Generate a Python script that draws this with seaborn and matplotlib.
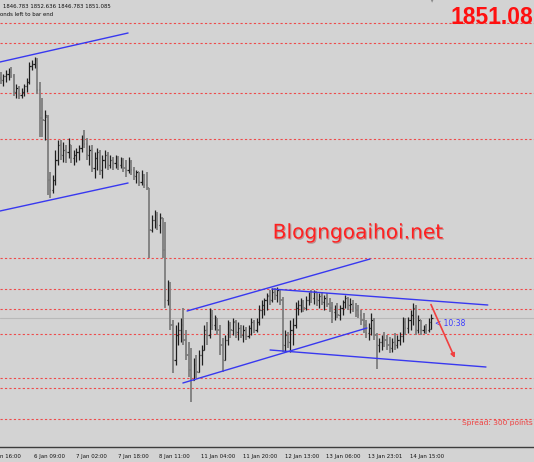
import matplotlib
matplotlib.use("Agg")
import matplotlib.pyplot as plt
import matplotlib.transforms as mtransforms
import matplotlib.patheffects as pe
import seaborn as sns
import numpy as np

# ---------------- data (XAUUSD H1) ----------------
opens = [1947.1,1946.3,1947.9,1948.7,1949.5,1947.9,1941.5,1943.1,1940.3,1941.5,
         1943.9,1945.5,1951.9,1952.7,1954.3,1942.3,1931.1,1930.3,1931.5,1906.3,
         1902.3,1906.3,1914.3,1920.3,1916.3,1918.3,1917.5,1920.3,1915.1,1916.3,
         1917.5,1919.1,1922.3,1920.7,1916.3,1918.3,1911.1,1915.1,1917.5,1910.3,
         1914.3,1916.3,1912.3,1914.3,1913.1,1915.1,1912.3,1914.3,1911.1,1910.3,
         1913.5,1910.3,1907.9,1909.5,1905.5,1908.3,1904.3,1903.1,1886.3,1890.3,
         1892.3,1888.3,1891.1,1878.3,1858.3,1862.3,1848.3,1834.3,1844.3,1846.3,
         1848.3,1842.3,1836.3,1830.3,1826.3,1832.3,1829.5,1836.3,1838.3,1846.3,
         1844.3,1852.3,1848.3,1851.1,1846.3,1840.3,1834.3,1842.3,1848.3,1846.3,
         1849.5,1845.5,1847.1,1844.3,1846.3,1843.9,1847.1,1849.5,1846.3,1849.5,
         1854.3,1856.3,1858.3,1859.9,1858.3,1861.5,1860.3,1862.3,1858.3,1840.3,
         1844.3,1841.5,1846.3,1848.3,1855.1,1856.3,1857.5,1855.1,1858.3,1860.3,
         1859.1,1861.5,1858.3,1859.9,1857.5,1859.1,1856.7,1855.1,1853.5,1854.3,
         1852.3,1855.1,1857.5,1859.1,1856.3,1856.7,1855.1,1854.3,1852.3,1850.3,
         1848.3,1845.1,1847.1,1850.3,1844.3,1840.3,1841.5,1843.1,1842.3,1840.3,
         1839.1,1841.5,1840.3,1842.3,1843.9,1849.5,1847.1,1850.3,1852.3,1855.1,
         1846.3,1850.3,1846.3,1847.5,1846.3,1846.783]
highs = [1949.5,1948.7,1950.3,1951.1,1951.5,1948.7,1944.7,1943.9,1943.1,1944.7,
         1947.1,1953.5,1954.3,1955.5,1955.1,1945.5,1939.1,1934.3,1932.3,1909.5,
         1908.3,1918.3,1922.3,1922.3,1921.5,1920.3,1923.1,1920.3,1918.3,1919.1,
         1920.3,1924.3,1926.3,1923.1,1920.3,1920.3,1917.5,1919.1,1918.3,1916.3,
         1918.3,1917.5,1916.3,1915.5,1916.3,1915.9,1915.5,1915.1,1914.3,1915.5,
         1914.3,1911.5,1910.3,1909.5,1910.3,1908.7,1909.5,1903.1,1892.3,1894.3,
         1893.5,1893.1,1891.1,1889.5,1866.3,1865.5,1850.3,1848.3,1849.5,1851.1,
         1855.1,1846.3,1841.5,1839.1,1835.1,1836.3,1838.3,1840.3,1848.3,1849.5,
         1855.1,1854.3,1852.3,1851.1,1848.3,1843.1,1844.3,1850.3,1849.5,1851.1,
         1850.3,1849.5,1848.3,1848.3,1847.5,1848.3,1851.1,1850.3,1851.1,1856.3,
         1858.3,1859.1,1861.1,1862.3,1863.1,1863.1,1863.5,1862.3,1859.5,1846.3,
         1845.5,1850.3,1851.1,1857.5,1858.3,1859.1,1858.3,1859.9,1861.5,1862.3,
         1862.3,1861.5,1861.1,1861.5,1860.3,1861.1,1859.1,1857.5,1856.3,1857.1,
         1856.3,1858.3,1860.3,1859.5,1859.1,1858.3,1857.1,1856.3,1854.3,1853.1,
         1850.3,1849.1,1853.1,1851.1,1845.1,1843.1,1844.3,1845.5,1844.3,1843.5,
         1843.1,1845.1,1844.3,1845.5,1851.5,1851.1,1851.5,1854.3,1857.1,1856.3,
         1852.3,1850.3,1848.3,1848.7,1851.1,1852.636]
lows = [1944.7,1943.9,1945.5,1946.3,1947.1,1939.9,1939.1,1938.7,1939.1,1939.9,
        1941.5,1944.7,1950.3,1951.1,1940.7,1923.5,1923.5,1922.3,1900.3,1899.1,
        1901.1,1904.3,1912.3,1914.3,1913.5,1913.1,1915.1,1913.1,1912.3,1913.5,
        1914.3,1917.5,1919.1,1914.3,1912.3,1909.5,1907.1,1910.3,1908.3,1907.1,
        1911.1,1910.3,1911.1,1910.3,1911.1,1910.3,1911.1,1909.5,1907.5,1909.1,
        1908.3,1906.3,1905.1,1903.9,1904.3,1903.1,1902.3,1875.1,1885.5,1887.1,
        1886.3,1885.1,1875.1,1855.1,1856.3,1846.3,1829.1,1832.3,1840.3,1841.5,
        1840.3,1834.3,1827.5,1817.5,1826.3,1827.1,1829.5,1832.3,1838.3,1840.3,
        1843.1,1846.3,1846.3,1844.3,1836.3,1829.5,1834.3,1840.3,1843.1,1844.3,
        1843.1,1842.3,1843.1,1841.5,1842.3,1843.1,1844.3,1845.1,1845.5,1848.3,
        1851.1,1852.3,1854.3,1856.3,1857.5,1858.3,1857.5,1856.3,1837.5,1837.5,
        1839.1,1837.5,1840.3,1847.1,1852.3,1853.5,1853.5,1854.3,1856.3,1857.1,
        1856.7,1855.9,1855.1,1856.3,1854.3,1855.5,1853.5,1849.1,1850.3,1851.1,
        1850.3,1852.3,1855.1,1854.3,1853.1,1853.5,1851.5,1851.1,1848.3,1845.1,
        1843.1,1842.3,1844.3,1842.3,1830.7,1837.5,1838.3,1839.5,1838.3,1837.1,
        1837.5,1838.3,1839.1,1840.3,1841.5,1844.3,1845.1,1846.3,1848.3,1844.3,
        1845.1,1844.3,1845.1,1844.7,1845.5,1846.783]
closes = [1946.3,1947.9,1948.7,1949.5,1947.9,1941.5,1943.1,1940.3,1941.5,1943.9,
          1945.5,1951.9,1952.7,1954.3,1942.3,1931.1,1930.3,1932.3,1906.3,1902.3,
          1906.3,1914.3,1920.3,1916.3,1918.3,1917.5,1920.3,1915.1,1916.3,1917.5,
          1919.1,1922.3,1920.7,1916.3,1918.3,1911.1,1915.1,1917.5,1910.3,1914.3,
          1916.3,1912.3,1914.3,1913.1,1915.1,1912.3,1914.3,1911.1,1910.3,1913.5,
          1910.3,1907.9,1909.5,1905.5,1908.3,1904.3,1903.1,1886.3,1890.3,1892.3,
          1888.3,1891.1,1878.3,1858.3,1862.3,1848.3,1834.3,1844.3,1846.3,1848.3,
          1842.3,1836.3,1830.3,1826.3,1832.3,1829.5,1836.3,1838.3,1846.3,1844.3,
          1852.3,1848.3,1851.1,1846.3,1840.3,1834.3,1842.3,1848.3,1846.3,1849.5,
          1845.5,1847.1,1844.3,1846.3,1843.9,1847.1,1849.5,1846.3,1849.5,1854.3,
          1856.3,1858.3,1859.9,1858.3,1861.5,1860.3,1862.3,1858.3,1840.3,1844.3,
          1841.5,1846.3,1848.3,1855.1,1856.3,1857.5,1855.1,1858.3,1860.3,1859.1,
          1861.5,1858.3,1859.9,1857.5,1859.1,1856.7,1855.1,1853.5,1854.3,1852.3,
          1855.1,1857.5,1859.1,1856.3,1856.7,1855.1,1854.3,1852.3,1850.3,1848.3,
          1845.1,1847.1,1850.3,1844.3,1840.3,1841.5,1843.1,1842.3,1840.3,1839.1,
          1841.5,1840.3,1842.3,1843.9,1849.5,1847.1,1850.3,1852.3,1855.1,1846.3,
          1850.3,1846.3,1847.5,1846.3,1849.5,1851.085]

tick_positions = [12, 28, 44, 60, 76, 92, 108, 124, 140, 156]
tick_labels = ["6 Jan 09:00", "7 Jan 02:00", "7 Jan 18:00", "8 Jan 11:00",
               "11 Jan 04:00", "11 Jan 20:00", "12 Jan 13:00", "13 Jan 06:00",
               "13 Jan 23:01", "14 Jan 15:00"]
edge_label = "n 16:00"   # visible part of the label cut by the left edge

levels = [1969.1, 1961.1, 1941.1, 1922.7, 1875.1, 1862.7, 1854.7, 1844.7, 1827.1, 1823.1, 1810.7]
bid_price = 1851.085

# trend lines: (start bar, start price, end bar, end price)
trend_lines = [
    (-0.26, 1953.5, 48.8, 1965.1),
    (-0.26, 1893.9, 48.8, 1905.1),
    (71.4, 1853.9, 141.5, 1874.7),
    (69.8, 1825.1, 140.3, 1847.1),
    (103.9, 1862.7, 186.6, 1856.3),
    (103.2, 1838.3, 185.9, 1831.5),
]
arrow_start = (164.4, 1857.5)
arrow_end = (174.4, 1834.1)

# ---------------- style ----------------
BG = "#d3d3d3"
sns.set_theme(style="white", rc={"axes.facecolor": BG, "figure.facecolor": BG})
plt.rcParams["font.family"] = ["DejaVu Sans"]

fig = plt.figure(figsize=(5.34, 4.62), dpi=100)
ax = fig.add_axes([0, 15 / 462, 1, 447 / 462])
ax.set_facecolor(BG)

# horizontal levels
for lv in levels:
    ax.axhline(lv, color="#ee4b4b", lw=0.8, ls=(0, (2, 2)), zorder=1)
ax.axhline(bid_price, color="#b9b9b9", lw=0.8, zorder=1)

# OHLC bars
idx = np.arange(len(opens))
for i, o, h, l, c in zip(idx, opens, highs, lows, closes):
    col = "#1e1e1e" if c >= o else "#7d7d7d"
    w = 0.9 if c >= o else 1.3
    ax.vlines(i, l, h, color=col, lw=w, zorder=3)
    ax.hlines(o, i - 0.45, i, color=col, lw=w, zorder=3)
    ax.hlines(c, i, i + 0.45, color=col, lw=w, zorder=3)

# trend lines
for (x0, y0, x1, y1) in trend_lines:
    sns.lineplot(x=[x0, x1], y=[y0, y1], ax=ax, color="#3838f0", lw=1.0,
                 estimator=None, sort=False, legend=False, zorder=4)

ax.annotate("", xy=arrow_end, xytext=arrow_start,
            arrowprops=dict(arrowstyle="-|>", color="#f04040", lw=1.2, mutation_scale=6),
            zorder=5)

ax.text(166.3, 1849.1, "< 10:38", color="#3a3aff", fontsize=5.5, va="center", ha="left")

# axis styling
for s in ["left", "right", "top"]:
    ax.spines[s].set_visible(False)
ax.spines["bottom"].set_color("#3c3c3c")
ax.spines["bottom"].set_linewidth(1.0)
ax.set_yticks([])
ax.set_xticks(tick_positions)
ax.set_xticklabels(tick_labels)
ax.set_xlim(-0.257, 204.3)
ax.set_ylim(1799.5, 1978.3)
ax.tick_params(axis="x", direction="out", length=3, width=0.8, color="#3c3c3c",
               labelsize=3.9, pad=1.8, labelcolor="#111111")
offset = mtransforms.ScaledTranslation(2 / 100, 0, fig.dpi_scale_trans)
for lab in ax.get_xticklabels():
    lab.set_ha("left")
    lab.set_transform(lab.get_transform() + offset)

# label cut by the left edge (only its visible part)
trans, _, _ = ax.get_xaxis_text1_transform(3 + 1.8)
ax.text(-0.1, 0, edge_label, transform=trans, fontsize=3.9, color="#111111",
        ha="left", va="top", clip_on=False)

# texts in pixel coords
def px(x, y):
    return x / 534, 1 - y / 462

fig.text(*px(3, 7), "1846.783 1852.636 1846.783 1851.085", fontsize=3.9,
         color="#111111", va="center", ha="left")
fig.text(*px(0, 15), "onds left to bar end", fontsize=3.9, color="#111111",
         va="center", ha="left")
fig.text(*px(533, 17), "1851.08", fontsize=16.5, color="#ff1010", va="center",
         ha="right", fontweight="bold", family="Liberation Sans")
fig.text(*px(358, 233), "Blogngoaihoi.net", fontsize=14.5, color="#ff2020",
         va="center", ha="center",
         path_effects=[pe.withSimplePatchShadow(offset=(0.8, -0.8),
                                                shadow_rgbFace="#8a2020", alpha=0.35)])
fig.text(*px(462, 423), "Spread: 300 points", fontsize=5.4, color="#f04040",
         va="center", ha="left")
fig.text(*px(432, 1), "\u25bc", fontsize=4, color="#8a8a8a", va="center", ha="center")

fig.savefig("out.png", dpi=100, facecolor=BG)
